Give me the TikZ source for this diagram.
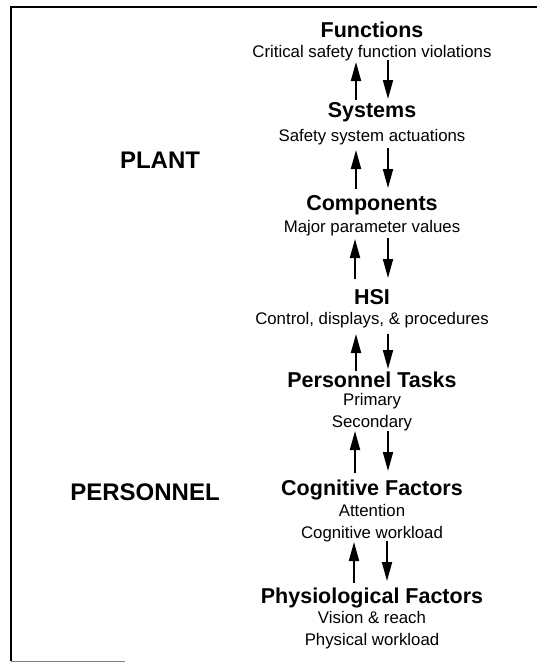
\documentclass[tikz,border=0pt]{standalone}
\usepackage{fontspec}
\setmainfont{Liberation Sans}
\usetikzlibrary{arrows.meta}

\begin{document}
\begin{tikzpicture}[x=1pt, y=-1pt,
  level/.style={font=\bfseries\fontsize{21.5}{24}\selectfont, inner sep=0pt},
  detail/.style={font=\fontsize{16.8}{20}\selectfont, inner sep=0pt, align=center},
  side/.style={font=\bfseries\fontsize{24}{28}\selectfont, inner sep=0pt},
  link/.style={line width=1.9pt, -{Triangle[length=19pt,width=10pt]}}]

\useasboundingbox (0,0) rectangle (537,662);

% Frame
\draw[line width=2pt] (11,661) -- (11,7) -- (537,7);
\draw[gray, line width=1pt] (11,661) -- (125,661);

% Define nodes
\path (372,30) node[level] (fun) {Functions}
(fun) +(0,23) node[detail] (fun-d) {Critical safety function violations}
(372,112) node[level] (sys) {Systems}
(sys) +(0,25) node[detail] (sys-d) {Safety system actuations}
(372,205) node[level] (comp) {Components}
(comp) +(0,23) node[detail] (comp-d) {Major parameter values}
(372,297) node[level] (hsi) {HSI}
(hsi) +(0,23) node[detail] (hsi-d) {Control, displays, \& procedures}
(372,380) node[level] (task) {Personnel Tasks}
(task) +(0,32) node[detail] (task-d) {Primary\\[1.5pt]Secondary}
(372,490) node[level] (cog) {Cognitive Factors}
(cog) +(0,33) node[detail] (cog-d) {Attention\\[1.5pt]Cognitive workload}
(372,598) node[level] (phys) {Physiological Factors}
(phys) +(0,32) node[detail] (phys-d) {Vision \& reach\\[1.5pt]Physical workload}
(160,160) node[side] (plant) {PLANT}
(145,492) node[side] (pers) {PERSONNEL}
;

% Arrow ends
\path (356,100) coordinate (u1-s) (356,62) coordinate (u1-e)
(388,60) coordinate (d1-s) (388,99) coordinate (d1-e)
(356,189) coordinate (u2-s) (356,150) coordinate (u2-e)
(388,148) coordinate (d2-s) (388,188) coordinate (d2-e)
(355,279) coordinate (u3-s) (355,239) coordinate (u3-e)
(388,238) coordinate (d3-s) (388,278) coordinate (d3-e)
(356,371) coordinate (u4-s) (356,334) coordinate (u4-e)
(388,334) coordinate (d4-s) (388,369) coordinate (d4-e)
(355,473) coordinate (u5-s) (355,431) coordinate (u5-e)
(388,431) coordinate (d5-s) (388,471) coordinate (d5-e)
(354,583) coordinate (u6-s) (354,542) coordinate (u6-e)
(387,541) coordinate (d6-s) (387,581) coordinate (d6-e)
;

\draw[link] (u1-s) -- (u1-e);
\draw[link] (d1-s) -- (d1-e);
\draw[link] (u2-s) -- (u2-e);
\draw[link] (d2-s) -- (d2-e);
\draw[link] (u3-s) -- (u3-e);
\draw[link] (d3-s) -- (d3-e);
\draw[link] (u4-s) -- (u4-e);
\draw[link] (d4-s) -- (d4-e);
\draw[link] (u5-s) -- (u5-e);
\draw[link] (d5-s) -- (d5-e);
\draw[link] (u6-s) -- (u6-e);
\draw[link] (d6-s) -- (d6-e);

\end{tikzpicture}
\end{document}
